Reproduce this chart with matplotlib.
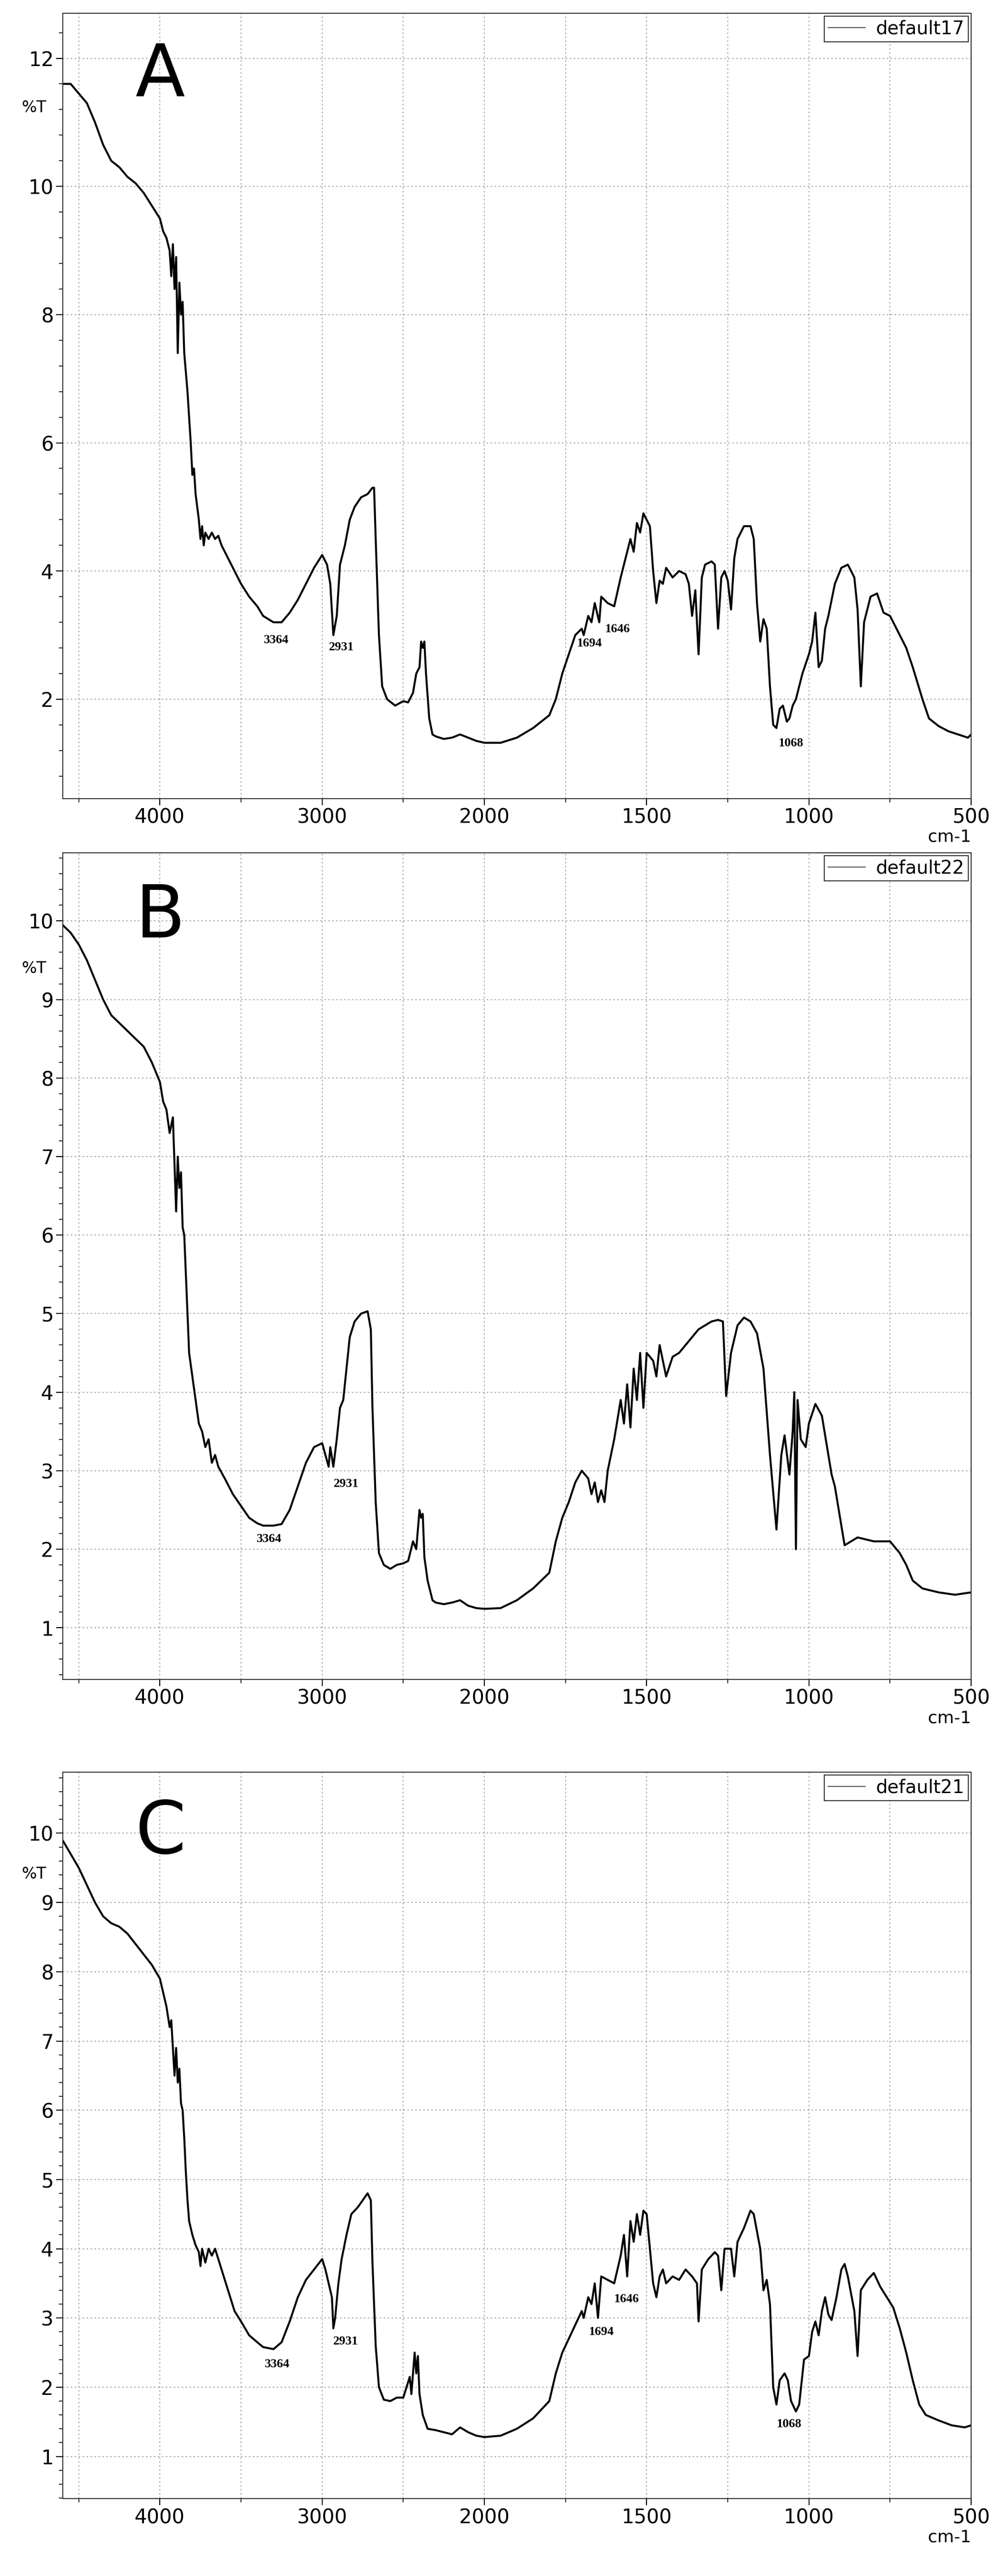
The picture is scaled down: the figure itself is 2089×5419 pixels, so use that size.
import numpy as np
import matplotlib
matplotlib.use("Agg")
import matplotlib.pyplot as plt
from matplotlib.ticker import MultipleLocator, FixedLocator

# ---------------- data ----------------
wnA = [4600,4550,4500,4450,4400,4350,4300,4250,4200,4150,4100,4050,4000,3980,3960,3940,3930,3920,3910,3900,3890,3880,3870,3860,3850,3840,3830,3820,3810,3800,3790,3780,3770,3760,3750,3740,3730,3720,3700,3680,3660,3640,3620,3600,3550,3500,3450,3400,3364,3300,3250,3200,3150,3100,3050,3000,2970,2950,2931,2910,2890,2860,2830,2800,2760,2720,2690,2680,2670,2650,2630,2600,2550,2500,2470,2440,2420,2400,2390,2380,2370,2360,2340,2320,2300,2250,2200,2150,2100,2050,2000,1950,1900,1850,1800,1780,1760,1740,1720,1700,1694,1680,1670,1660,1646,1640,1620,1600,1580,1560,1550,1540,1530,1520,1510,1500,1490,1480,1470,1460,1450,1440,1420,1400,1380,1370,1360,1350,1340,1330,1320,1300,1290,1280,1270,1260,1250,1240,1230,1220,1200,1180,1170,1160,1150,1140,1130,1120,1110,1100,1090,1080,1068,1060,1050,1040,1020,1000,990,980,970,960,950,940,920,900,880,860,850,840,830,810,790,770,750,720,700,680,650,630,600,570,540,510,500]
tA = [11.6,11.6,11.45,11.3,11.0,10.65,10.4,10.3,10.15,10.05,9.9,9.7,9.5,9.3,9.2,9.0,8.6,9.1,8.4,8.9,7.4,8.5,8.0,8.2,7.4,7.1,6.8,6.4,6.0,5.5,5.6,5.2,5.0,4.8,4.5,4.7,4.4,4.6,4.5,4.6,4.5,4.55,4.4,4.3,4.05,3.8,3.6,3.45,3.3,3.2,3.2,3.35,3.55,3.8,4.05,4.25,4.1,3.8,3.0,3.3,4.1,4.4,4.8,5.0,5.15,5.2,5.3,5.3,4.5,3.0,2.2,2.0,1.9,1.97,1.95,2.1,2.4,2.5,2.9,2.8,2.9,2.4,1.7,1.45,1.42,1.38,1.4,1.45,1.4,1.35,1.32,1.32,1.4,1.55,1.75,2.0,2.4,2.7,3.0,3.1,3.0,3.3,3.2,3.5,3.2,3.6,3.5,3.45,3.9,4.3,4.5,4.3,4.75,4.6,4.9,4.8,4.7,4.0,3.5,3.85,3.8,4.05,3.9,4.0,3.95,3.8,3.3,3.7,2.7,3.9,4.1,4.15,4.1,3.1,3.9,4.0,3.85,3.4,4.2,4.5,4.7,4.7,4.5,3.5,2.9,3.25,3.1,2.2,1.6,1.55,1.85,1.9,1.65,1.7,1.9,2.0,2.4,2.7,2.9,3.35,2.5,2.6,3.1,3.3,3.8,4.05,4.1,3.9,3.4,2.2,3.2,3.6,3.65,3.35,3.3,3.0,2.8,2.5,2.0,1.7,1.58,1.5,1.45,1.4,1.45]

wnB = [4600,4550,4500,4450,4400,4350,4300,4250,4200,4150,4100,4050,4000,3980,3960,3940,3920,3910,3900,3890,3880,3870,3860,3850,3840,3830,3820,3800,3780,3760,3740,3720,3700,3680,3660,3640,3600,3550,3500,3450,3400,3364,3300,3250,3200,3150,3100,3050,3000,2980,2960,2950,2931,2910,2890,2870,2850,2830,2800,2760,2720,2700,2690,2670,2650,2620,2580,2540,2500,2470,2440,2420,2400,2390,2380,2370,2350,2320,2300,2250,2200,2150,2100,2050,2000,1950,1900,1850,1800,1780,1760,1740,1720,1700,1680,1670,1660,1650,1640,1630,1620,1600,1580,1570,1560,1550,1540,1530,1520,1510,1500,1480,1470,1460,1450,1440,1420,1400,1380,1360,1340,1320,1300,1280,1265,1255,1240,1220,1200,1180,1160,1140,1120,1100,1085,1075,1060,1050,1045,1040,1035,1025,1010,1000,980,960,940,930,920,900,890,870,850,800,750,720,700,680,650,600,550,500]
tB = [9.95,9.85,9.7,9.5,9.25,9.0,8.8,8.7,8.6,8.5,8.4,8.2,7.95,7.7,7.6,7.3,7.5,6.9,6.3,7.0,6.6,6.8,6.1,6.0,5.5,5.0,4.5,4.2,3.9,3.6,3.5,3.3,3.4,3.1,3.2,3.05,2.9,2.7,2.55,2.4,2.33,2.3,2.3,2.32,2.5,2.8,3.1,3.3,3.35,3.2,3.05,3.3,3.05,3.4,3.8,3.9,4.3,4.7,4.9,5.0,5.03,4.8,3.8,2.6,1.95,1.8,1.75,1.8,1.82,1.85,2.1,2.0,2.5,2.4,2.45,1.9,1.6,1.35,1.32,1.3,1.32,1.35,1.28,1.25,1.24,1.25,1.35,1.5,1.7,2.1,2.4,2.6,2.85,3.0,2.9,2.7,2.85,2.6,2.75,2.6,3.0,3.4,3.9,3.6,4.1,3.55,4.3,3.9,4.5,3.8,4.5,4.4,4.2,4.6,4.4,4.2,4.45,4.5,4.6,4.7,4.8,4.85,4.9,4.92,4.9,3.95,4.5,4.85,4.95,4.9,4.75,4.3,3.2,2.25,3.2,3.45,2.95,3.5,4.0,2.0,3.9,3.4,3.3,3.6,3.85,3.7,3.2,2.95,2.8,2.3,2.05,2.1,2.15,2.1,2.1,1.95,1.8,1.6,1.5,1.45,1.42,1.45]

wnC = [4600,4550,4500,4450,4400,4350,4300,4250,4200,4150,4100,4050,4000,3980,3960,3940,3930,3920,3910,3900,3890,3880,3870,3860,3850,3840,3830,3820,3800,3780,3760,3750,3740,3720,3700,3680,3660,3620,3580,3540,3500,3450,3400,3364,3300,3250,3200,3150,3100,3050,3000,2980,2960,2940,2931,2920,2900,2880,2850,2820,2780,2750,2720,2700,2690,2670,2650,2620,2580,2540,2500,2480,2460,2450,2430,2420,2410,2400,2380,2350,2300,2250,2200,2150,2100,2050,2000,1950,1900,1850,1800,1780,1760,1740,1720,1700,1694,1680,1670,1660,1650,1640,1620,1600,1580,1570,1560,1550,1540,1530,1520,1510,1500,1490,1480,1470,1460,1450,1440,1420,1400,1380,1360,1345,1340,1330,1310,1290,1280,1270,1260,1240,1230,1220,1200,1180,1170,1150,1140,1130,1120,1110,1100,1090,1075,1065,1055,1040,1030,1015,1000,990,980,970,960,950,940,930,915,900,890,880,860,850,840,820,800,780,760,740,720,700,680,660,640,600,560,520,500]
tC = [9.9,9.7,9.5,9.25,9.0,8.8,8.7,8.65,8.55,8.4,8.25,8.1,7.9,7.7,7.5,7.2,7.3,6.9,6.5,6.9,6.4,6.6,6.1,6.0,5.6,5.1,4.7,4.4,4.2,4.05,3.95,3.75,4.0,3.8,4.0,3.9,4.0,3.7,3.4,3.1,2.95,2.75,2.65,2.58,2.55,2.65,2.95,3.3,3.55,3.7,3.85,3.7,3.5,3.3,2.85,3.0,3.5,3.85,4.2,4.5,4.6,4.7,4.8,4.7,3.8,2.6,2.0,1.82,1.8,1.85,1.85,2.0,2.15,1.9,2.5,2.2,2.45,1.9,1.6,1.4,1.38,1.35,1.32,1.42,1.35,1.3,1.28,1.3,1.4,1.55,1.8,2.2,2.5,2.7,2.9,3.1,3.0,3.3,3.2,3.5,3.0,3.6,3.55,3.5,3.9,4.2,3.6,4.4,4.1,4.5,4.2,4.55,4.5,4.0,3.5,3.3,3.6,3.7,3.5,3.6,3.55,3.7,3.6,3.5,2.95,3.7,3.85,3.95,3.9,3.4,4.0,4.0,3.6,4.1,4.3,4.55,4.5,4.0,3.4,3.55,3.2,2.0,1.75,2.1,2.2,2.1,1.8,1.65,1.75,2.4,2.45,2.8,2.95,2.75,3.1,3.3,3.05,2.97,3.3,3.7,3.78,3.6,3.1,2.45,3.4,3.55,3.65,3.45,3.3,3.15,2.85,2.5,2.1,1.75,1.6,1.52,1.45,1.42,1.45]

panel_letters = ["A", "B", "C"]
legend_labels = ["default17", "default22", "default21"]
ylims = [(0.45, 12.7), (0.34, 10.87), (0.39, 10.88)]
yticks = [[2, 4, 6, 8, 10, 12], list(range(1, 11)), list(range(1, 11))]
peak_labels = [
    [("3364", 3282, 2.92), ("2931", 2882, 2.81), ("1694", 1676, 2.87), ("1646", 1590, 3.09), ("1068", 1055, 1.31)],
    [("3364", 3327, 2.13), ("2931", 2852, 2.83)],
    [("3364", 3276, 2.33), ("2931", 2856, 2.66), ("1694", 1639, 2.80), ("1646", 1562, 3.27), ("1068", 1061, 1.47)],
]
xticks_major = [4000, 3000, 2000, 1500, 1000, 500]
xgrid = [4500, 4000, 3500, 3000, 2500, 2000, 1750, 1500, 1250, 1000, 750, 500]

# ---------------- plotting ----------------
def fwd(x):
    x = np.asarray(x, dtype=float)
    return np.where(x <= 2000, x, 2000 + (x - 2000) / 2.0)

def inv(u):
    u = np.asarray(u, dtype=float)
    return np.where(u <= 2000, u, 2000 + 2.0 * (u - 2000))

fig = plt.figure(figsize=(20.89, 54.19), dpi=100)
boxes = [(0.063, 0.690, 0.915, 0.3048), (0.063, 0.348, 0.915, 0.321), (0.063, 0.030, 0.915, 0.282)]
data = [(wnA, tA), (wnB, tB), (wnC, tC)]

for i in range(3):
    ax = fig.add_axes(boxes[i])
    x, y = data[i]
    ax.plot(x, y, color="black", lw=3.0, label=legend_labels[i])
    ax.set_xscale("function", functions=(fwd, inv))
    ax.set_xlim(4600, 500)
    ax.set_ylim(*ylims[i])
    ax.xaxis.set_major_locator(FixedLocator(xticks_major))
    ax.xaxis.set_minor_locator(FixedLocator(xgrid))
    ax.set_yticks(yticks[i])
    ax.yaxis.set_minor_locator(MultipleLocator(0.4 if i == 0 else 0.2))
    for g in xgrid:
        ax.axvline(g, color="#999999", ls=(0, (2, 3)), lw=1.2, zorder=0)
    for t in yticks[i]:
        ax.axhline(t, color="#999999", ls=(0, (2, 3)), lw=1.2, zorder=0)
    ax.tick_params(axis="both", which="major", labelsize=30, length=10, width=1.5)
    ax.tick_params(axis="y", which="minor", length=6, width=1.2)
    ax.tick_params(axis="x", which="minor", length=6, width=1.2)
    for s in ax.spines.values():
        s.set_linewidth(1.5)
        s.set_color("#333333")
    ax.text(0.08, 0.965, panel_letters[i], transform=ax.transAxes, fontsize=110,
            va="top", ha="left", family="DejaVu Sans")
    ax.text(-0.045, 0.88 if i == 0 else 0.86, "%T", transform=ax.transAxes, fontsize=24, ha="left", va="center")
    ax.annotate("cm-1", xy=(1.0, 0.0), xycoords="axes fraction", xytext=(0, -46),
                textcoords="offset points", ha="right", va="top", fontsize=26)
    for lab, px, py in peak_labels[i]:
        ax.text(px, py, lab, ha="center", va="center", fontsize=19, fontweight="bold",
                family="Liberation Serif")
    leg = ax.legend(loc="upper right", fontsize=28, frameon=True, fancybox=False,
                    edgecolor="black", borderaxespad=0.15, handlelength=2.0,
                    borderpad=0.2, handletextpad=0.6)
    leg.get_frame().set_linewidth(1.5)
    leg.get_lines()[0].set_linewidth(1.5)
    leg.get_lines()[0].set_color("#555555")

fig.savefig("out.png", dpi=100)
